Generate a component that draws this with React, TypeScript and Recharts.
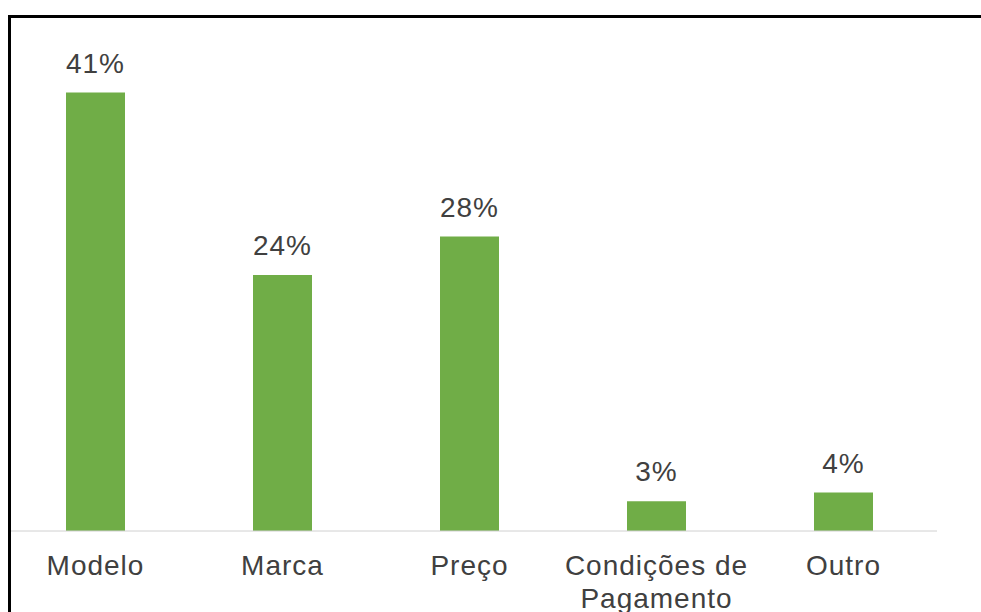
import React from "react";
import { BarChart, Bar, XAxis, YAxis, LabelList } from "recharts";

const categories: string[] = ["Modelo", "Marca", "Preço", "Condições de\nPagamento", "Outro"];
const shares: number[] = [41.1, 24.0, 27.6, 2.8, 3.6];

const data = categories.map((name, i) => ({ name, value: shares[i] }));

const FONT = "'Liberation Sans', Arial, sans-serif";
const TEXT = "#404040";

const Tick = (props: any) => {
  const { x, y, payload } = props;
  const lines = String(payload.value).split("\n");
  return (
    <text x={x} y={y} textAnchor="middle" fontFamily={FONT} fontSize={28} fill={TEXT} letterSpacing={1}>
      {lines.map((l, i) => (
        <tspan key={i} x={x} y={y + 44 + i * 33}>
          {l}
        </tspan>
      ))}
    </text>
  );
};

export default function App() {
  return (
    <div style={{ position: "fixed", left: 0, top: 0, width: 981, height: 612, overflow: "hidden", background: "#fff" }}>
      <div
        style={{
          position: "absolute",
          left: 8,
          top: 15,
          width: 1000,
          height: 700,
          boxSizing: "border-box",
          border: "3px solid #000",
          overflow: "hidden",
        }}
      >
        <div style={{ position: "absolute", left: -9, top: 0 }}>
          <BarChart width={935} height={600} data={data} margin={{ top: 33, right: 0, bottom: 27, left: 0 }}>
            <YAxis hide domain={[0, 45]} allowDataOverflow />
            <XAxis
              dataKey="name"
              height={60}
              tickLine={false}
              tickSize={0}
              tickMargin={0}
              axisLine={{ stroke: "#d0d0d0", strokeWidth: 1 }}
              tick={<Tick />}
              interval={0}
            />
            <Bar dataKey="value" fill="#70AD47" barSize={59} isAnimationActive={false}>
              <LabelList
                dataKey="value"
                position="top"
                offset={20}
                formatter={(v: any) => `${Math.round(Number(v))}%`}
                style={{ fontFamily: FONT, fontSize: 28, fill: TEXT, letterSpacing: 1 }}
              />
            </Bar>
          </BarChart>
        </div>
      </div>
    </div>
  );
}
